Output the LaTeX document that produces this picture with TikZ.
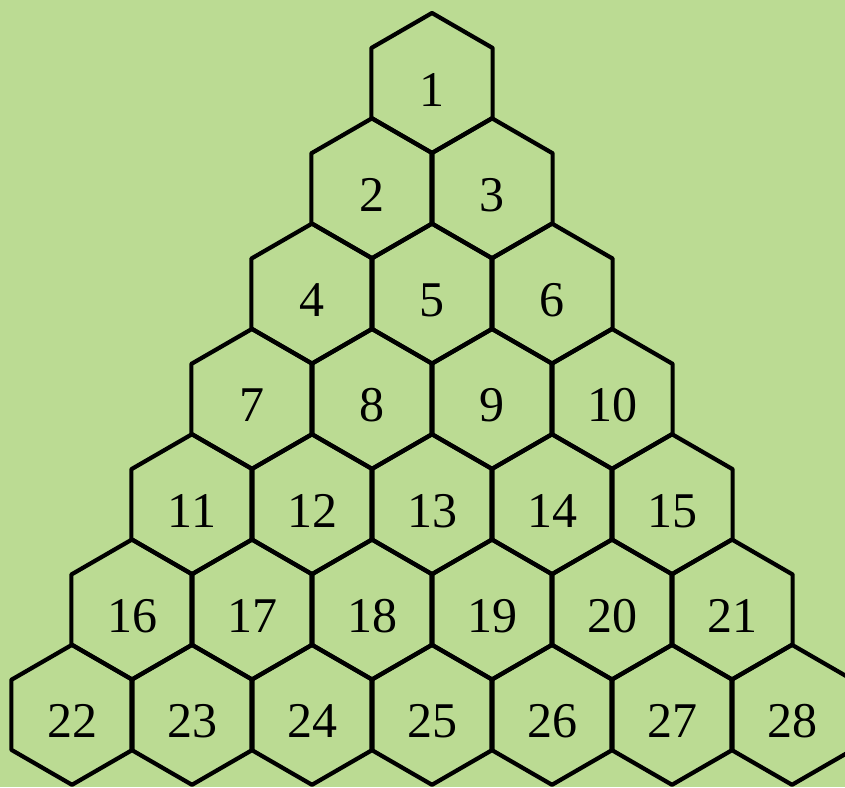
\documentclass[tikz,border=0pt]{standalone}
\usepackage{fontspec}
\setmainfont{Liberation Serif}
\usetikzlibrary{shapes.geometric}
\definecolor{hxleaf}{HTML}{BBDB93}
\definecolor{hxink}{HTML}{000000}

\begin{document}
\begin{tikzpicture}[x=0.5pt,y=-0.5pt,
    hexcell/.style={regular polygon,regular polygon sides=6,shape border rotate=30,
      minimum size=70pt,inner sep=0pt,draw=hxink,line width=2.1pt,line join=round,
      text height=23pt,text depth=0pt,font=\fontsize{25}{30}\selectfont}]
  \useasboundingbox (0,0) rectangle (845,787);
  \fill[hxleaf] (0,0) rectangle (845,787);
  \clip (0,0) rectangle (845,787);
  \foreach \r in {1,...,7}
    \foreach \k in {1,...,\r} {
      \pgfmathtruncatemacro{\n}{\r*(\r-1)/2+\k}
      \node[hexcell] (h\n) at ({432-(\r-1)*60+(\k-1)*120},{83+(\r-1)*105.3}) {\n};
    }
\end{tikzpicture}
\end{document}
